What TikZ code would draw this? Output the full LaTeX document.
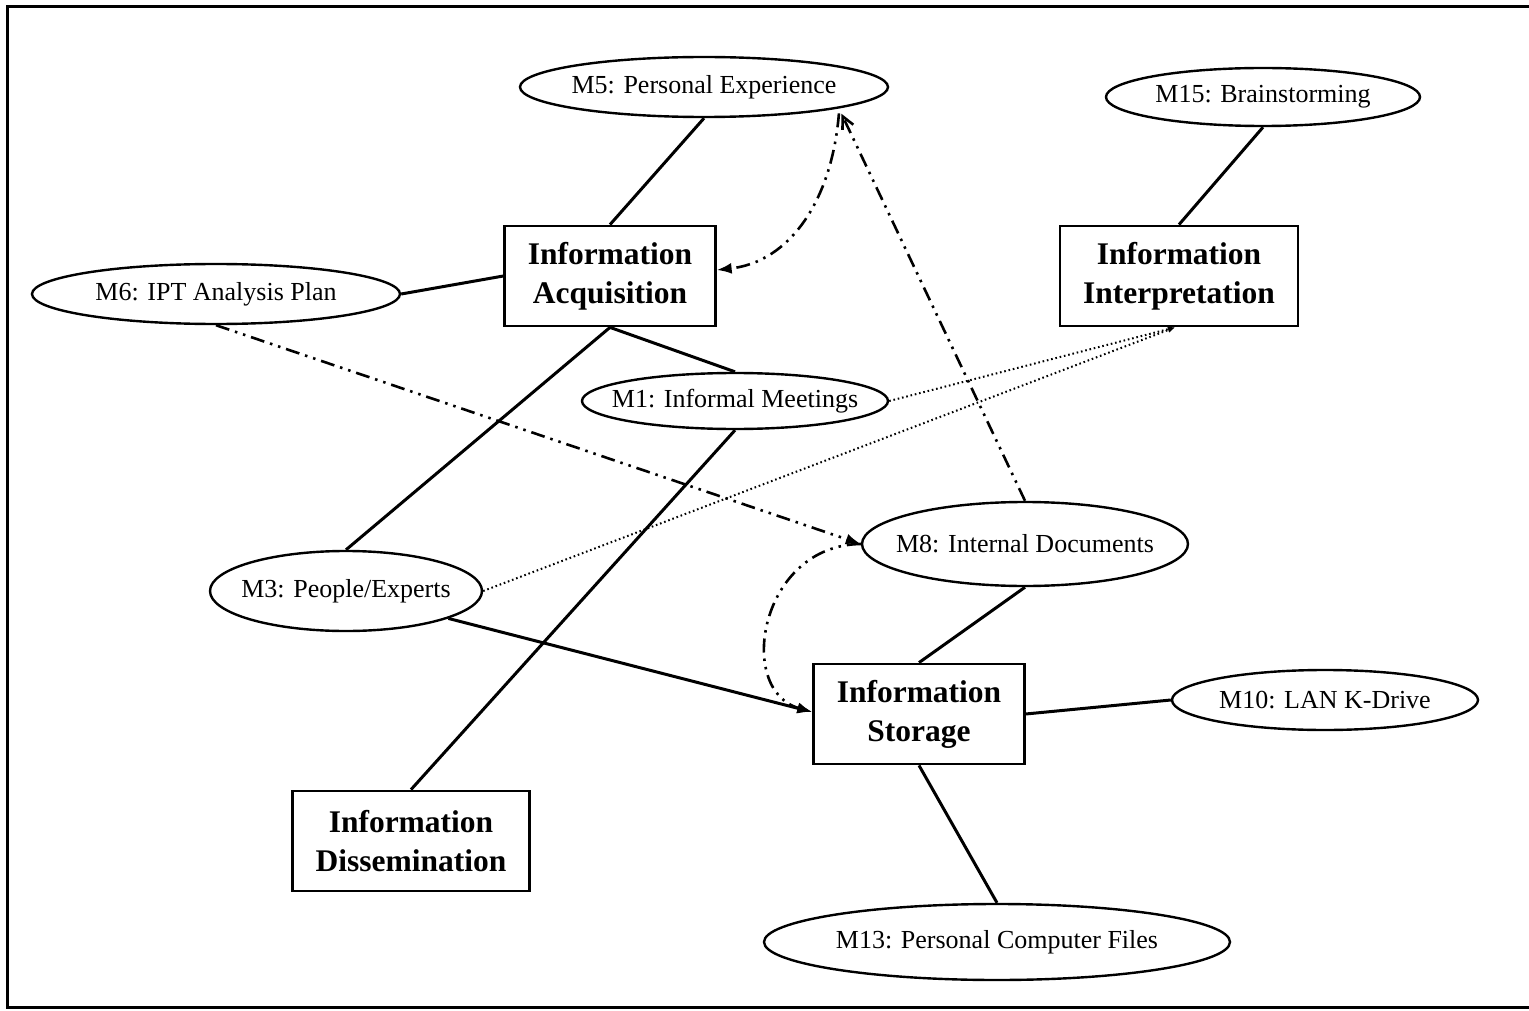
\documentclass[tikz,border=0pt]{standalone}
\usepackage{fontspec}
\setmainfont{Liberation Serif}
\usetikzlibrary{shapes.geometric,arrows.meta}
\newcommand{\zw}[1]{\makebox[0pt]{#1}}
\begin{document}
\begin{tikzpicture}[x=1pt,y=-1pt,
  oval/.style={ellipse,draw,line width=2.4pt,inner sep=0pt,font=\fontsize{26}{30}\selectfont},
  proc/.style={rectangle,draw,line width=2.8pt,inner xsep=23pt,minimum height=100pt,align=center,font=\fontsize{31.5}{39}\selectfont\bfseries},
  link/.style={line width=3pt},
  ddd/.style={line width=2.6pt,dash pattern=on 14pt off 6pt on 2.5pt off 6pt on 2.5pt off 6pt},
  dots/.style={line width=2pt,dash pattern=on 1.6pt off 2.8pt},
  tip/.style={-{Latex[length=15pt,width=11pt]}},
  smalltip/.style={-{Latex[length=7pt,width=6pt]}}
]
\useasboundingbox (0,0) rectangle (1529,1011);
\draw[line width=3pt] (1529,7) -- (7,7) -- (7,1007) -- (1529,1007);

\node[oval,minimum width=368pt,minimum height=60pt] (m5) at (704,87) {\zw{M5: Personal Experience}};
\node[oval,minimum width=314pt,minimum height=58pt] (m15) at (1263,97) {\zw{M15: Brainstorming}};
\node[proc] (acq) at (610,276) {Information\\Acquisition};
\node[proc] (interp) at (1179,276) {Information\\Interpretation};
\node[oval,minimum width=368pt,minimum height=60pt] (m6) at (216,294) {\zw{M6: IPT Analysis Plan}};
\node[oval,minimum width=306pt,minimum height=56pt] (m1) at (735,401) {\zw{M1: Informal Meetings}};
\node[oval,minimum width=326pt,minimum height=84pt] (m8) at (1025,544) {\zw{M8: Internal Documents}};
\node[oval,minimum width=272pt,minimum height=80pt] (m3) at (346,591) {\zw{M3: People/Experts}};
\node[proc] (stor) at (919,714) {Information\\Storage};
\node[oval,minimum width=306pt,minimum height=60pt] (m10) at (1325,700) {\zw{M10: LAN K-Drive}};
\node[proc] (diss) at (411,841) {Information\\Dissemination};
\node[oval,minimum width=466pt,minimum height=76pt] (m13) at (997,942) {\zw{M13: Personal Computer Files}};

% solid links
\draw[link] (m5.south) -- (acq.north);
\draw[link] (m6.east) -- (acq.west);
\draw[link] (acq.south) -- (m1.north);
\draw[link] (acq.south) -- (m3.north);
\draw[link] (m1.south) -- (diss.north);
\draw[link] (m15.south) -- (interp.north);
\draw[link] (m8.south) -- (stor.north);
\draw[link] (stor.east) -- (m10.west);
\draw[link] (stor.south) -- (m13.north);
\draw[link,tip] (m3.-15) -- ([yshift=2pt]stor.west);

% dotted links
\draw[dots,smalltip] (m1.east) -- ([xshift=-4pt]interp.south);
\draw[dots,smalltip] (m3.east) -- ([xshift=-4pt]interp.south);

% dash-dot links
\draw[ddd,tip] (m6.south) -- (m8.west);
\draw[ddd,-{Straight Barb[length=12pt,width=12pt]},shorten >=6pt] (m8.north) -- (m5.-9);
\draw[ddd,tip] ([yshift=-5pt]m5.-9) .. controls (832,200) and (790,262) .. ([yshift=6pt]acq.east);
\draw[ddd,tip] (m8.west) .. controls (760,545) and (735,690) .. ([yshift=2pt]stor.west);
\end{tikzpicture}
\end{document}
